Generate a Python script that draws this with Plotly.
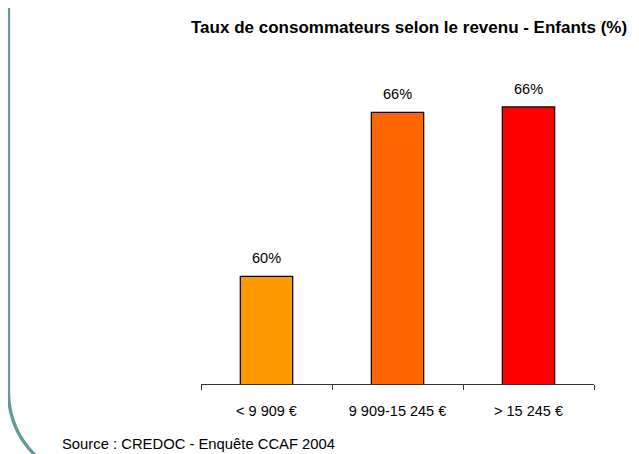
import plotly.graph_objects as go

categories = ["< 9 909 €", "9 909-15 245 €", "> 15 245 €"]
values = [60.0, 66.1, 66.3]
labels = ["60%", "66%", "66%"]
colors = ["#FF9900", "#FF6600", "#FF0000"]

OFF = 8  # page body margin offset
W, H = 639 - OFF, 454 - OFF
L = 201 - OFF
R = W - (594 - OFF)
T = 60 - OFF
B = H - (384 - OFF)
PW, PH = W - L - R, H - T - B
YMIN = 56.0
YMAX = YMIN + PH / 26.9

FONT = "Liberation Sans, Arial, sans-serif"


def px(x):
    return (x - OFF - L) / PW


def py(y):
    return (H - B - (y - OFF)) / PH


fig = go.Figure()
fig.add_trace(go.Bar(
    x=categories, y=values,
    marker=dict(color=colors, line=dict(color="#000000", width=1.2)),
    width=0.4,
    hoverinfo="skip",
))

for c, v, t in zip(categories, values, labels):
    fig.add_annotation(x=c, y=v, text=t, showarrow=False, yanchor="bottom",
                       yshift=8, font=dict(family=FONT, size=14.5, color="#000000"))

fig.add_annotation(xref="paper", yref="paper", x=px(60), y=py(444),
                   xanchor="left", yanchor="middle", showarrow=False,
                   text="Source : CREDOC - Enquête CCAF 2004",
                   font=dict(family=FONT, size=14.8, color="#000000"))

fig.add_annotation(xref="paper", yref="paper", x=px(629), y=py(27),
                   xanchor="right", yanchor="middle", showarrow=False,
                   text="<b>Taux de consommateurs selon le revenu - Enfants (%)</b>",
                   font=dict(family=FONT, size=17, color="#000000"))

path = (f"M {px(8.5)},{py(-5)} L {px(8.5)},{py(395)} "
        f"Q {px(10)},{py(432)} {px(38)},{py(458)}")
fig.add_shape(type="path", xref="paper", yref="paper", path=path,
              line=dict(color="#5F9B9B", width=3.3), layer="above")

fig.update_layout(
    width=W, height=H,
    margin=dict(l=L, r=R, t=T, b=B),
    paper_bgcolor="#FFFFFF", plot_bgcolor="#FFFFFF",
    showlegend=False,
    font=dict(family=FONT),
)
fig.update_xaxes(
    type="category", showline=True, linecolor="#333333", linewidth=1,
    ticks="outside", tickson="boundaries", ticklen=5, tickcolor="#333333",
    tickwidth=1, showgrid=False, ticklabelstandoff=14,
    tickfont=dict(family=FONT, size=14.5, color="#000000"),
)
fig.update_yaxes(range=[YMIN, YMAX], visible=False, showgrid=False)

fig.write_html("out.html")
